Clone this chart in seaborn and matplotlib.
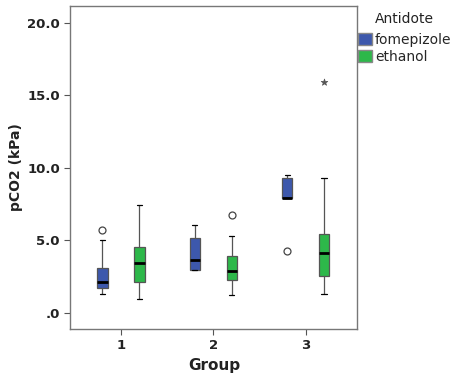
import numpy as np
import pandas as pd
import matplotlib.pyplot as plt
import seaborn as sns
from matplotlib.patches import Patch

groups = ["1", "2", "3"]
antidotes = ["fomepizole", "ethanol"]

# five-number summaries: low whisker, Q1, median, Q3, high whisker
g1_fomepizole = [1.31, 1.70, 2.11, 3.10, 5.00]
g1_ethanol = [0.97, 2.14, 3.43, 4.53, 7.47]
g2_fomepizole = [2.94, 2.94, 3.66, 5.17, 6.09]
g2_ethanol = [1.22, 2.28, 2.87, 3.95, 5.33]
g3_fomepizole = [7.91, 7.91, 7.91, 9.29, 9.49]
g3_ethanol = [1.33, 2.53, 4.16, 5.45, 9.29]

# outliers (circle) and extremes (star)
outlier_group = ["1", "2", "3"]
outlier_antidote = ["fomepizole", "ethanol", "fomepizole"]
outlier_value = [5.70, 6.76, 4.30]
extreme_group = ["3"]
extreme_antidote = ["ethanol"]
extreme_value = [15.9]

colors = {"fomepizole": "#3D58AC", "ethanol": "#2DB84A"}

rows = []
for g, a, vals in [("1", "fomepizole", g1_fomepizole), ("1", "ethanol", g1_ethanol),
                   ("2", "fomepizole", g2_fomepizole), ("2", "ethanol", g2_ethanol),
                   ("3", "fomepizole", g3_fomepizole), ("3", "ethanol", g3_ethanol)]:
    for v in vals:
        rows.append({"Group": g, "Antidote": a, "pCO2": v})
df = pd.DataFrame(rows)
df_out = pd.DataFrame({"Group": outlier_group, "Antidote": outlier_antidote, "pCO2": outlier_value})
df_ext = pd.DataFrame({"Group": extreme_group, "Antidote": extreme_antidote, "pCO2": extreme_value})

sns.set_style("white")
plt.rcParams["font.family"] = ["DejaVu Sans"]

fig, ax = plt.subplots(figsize=(4.54, 3.78), dpi=100)
fig.subplots_adjust(left=0.155, right=0.787, top=0.984, bottom=0.13)

sns.boxplot(data=df, x="Group", y="pCO2", hue="Antidote", order=groups, hue_order=antidotes,
            palette=colors, whis=(0, 100), width=0.8, gap=0.72, saturation=1,
            linecolor="#555555", linewidth=0.9, legend=False,
            medianprops={"color": "black", "linewidth": 2},
            capprops={"color": "black"}, ax=ax)

sns.stripplot(data=df_out, x="Group", y="pCO2", hue="Antidote", order=groups, hue_order=antidotes,
              dodge=True, jitter=False, marker="o", size=5, linewidth=0.9,
              palette={"fomepizole": "white", "ethanol": "white"}, edgecolor="#444444",
              legend=False, ax=ax)
sns.stripplot(data=df_ext, x="Group", y="pCO2", hue="Antidote", order=groups, hue_order=antidotes,
              dodge=True, jitter=False, marker="*", size=5, linewidth=0.5,
              palette={"fomepizole": "#555555", "ethanol": "#555555"}, edgecolor="#555555",
              legend=False, ax=ax)

ax.set_xlim(-0.547, 2.56)
ax.set_ylim(-1.1, 21.17)
ax.set_yticks([0, 5, 10, 15, 20])
ax.set_yticklabels([".0", "5.0", "10.0", "15.0", "20.0"])
ax.tick_params(axis="both", direction="out", length=4, width=0.8, color="#555555",
               labelsize=9.5, left=True, bottom=True)
for lab in ax.get_xticklabels() + ax.get_yticklabels():
    lab.set_fontweight("bold")
    lab.set_color("#222222")
for s in ax.spines.values():
    s.set_color("#777777")
    s.set_linewidth(1)

ax.set_xlabel("Group", fontsize=11, fontweight="bold", color="#222222")
ax.set_ylabel("pCO2 (kPa)", fontsize=10, fontweight="bold", color="#222222", labelpad=3)

handles = [Patch(facecolor=colors[a], edgecolor="#888888", label=a) for a in antidotes]
fig.legend(handles=handles, loc="upper left", bbox_to_anchor=(0.789, 1 - 33 / 378),
           frameon=False, fontsize=10, handlelength=1.0, handleheight=1.0,
           handletextpad=0.2, borderaxespad=0, borderpad=0, labelspacing=0.2)
fig.text(375 / 454, 1 - 19 / 378, "Antidote", fontsize=10, color="#222222",
         ha="left", va="center")

fig.savefig("out.png", dpi=100)
